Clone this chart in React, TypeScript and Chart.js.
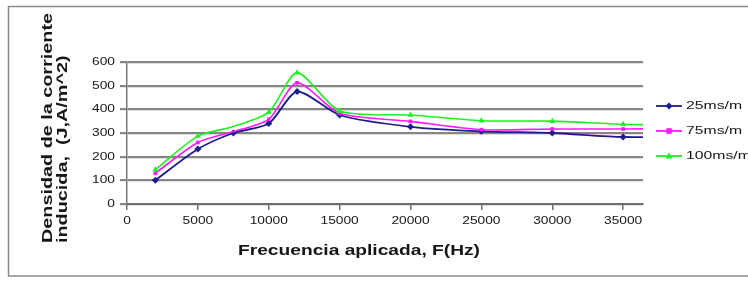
import { useEffect, useRef } from "react";
import { Chart, registerables } from "chart.js";

Chart.register(...registerables);

const frequencies = [2000, 5000, 7500, 10000, 12000, 15000, 20000, 25000, 30000, 35000, 40000];
const series25 = [100, 232, 300, 340, 475, 376, 326, 307, 300, 283, 285];
const series75 = [130, 260, 306, 358, 512, 383, 349, 314, 317, 317, 318];
const series100 = [145, 287, 327, 388, 555, 393, 376, 352, 350, 337, 333];
const seriesLabels = ["25ms/m", "75ms/m", "100ms/m"];
const seriesColors = ["#1c1c8a", "#ff1aff", "#22ee22"];
const seriesMarkers = ["rectRot", "rect", "triangle"];
const xTickValues = [0, 5000, 10000, 15000, 20000, 25000, 30000, 35000];
const yTickValues = [0, 100, 200, 300, 400, 500, 600];
const xTitle = "Frecuencia aplicada, F(Hz)";
const yTitleLines = ["Densidad de la corriente", "inducida,  (J,A/m^2)"];

function drawStretched(ctx: CanvasRenderingContext2D, text: string, x: number, y: number, sx: number, align: CanvasTextAlign, baseline: CanvasTextBaseline) {
  ctx.save();
  ctx.translate(x, y);
  ctx.scale(sx, 1);
  ctx.textAlign = align;
  ctx.textBaseline = baseline;
  ctx.fillText(text, 0, 0);
  ctx.restore();
}

function drawMarker(ctx: CanvasRenderingContext2D, kind: string, x: number, y: number, r: number, color: string) {
  ctx.save();
  ctx.fillStyle = color;
  ctx.beginPath();
  if (kind === "rectRot") {
    ctx.moveTo(x, y - r);
    ctx.lineTo(x + r, y);
    ctx.lineTo(x, y + r);
    ctx.lineTo(x - r, y);
  } else if (kind === "rect") {
    ctx.rect(x - r * 0.8, y - r * 0.8, r * 1.6, r * 1.6);
  } else {
    ctx.moveTo(x, y - r);
    ctx.lineTo(x + r, y + r * 0.7);
    ctx.lineTo(x - r, y + r * 0.7);
  }
  ctx.closePath();
  ctx.fill();
  ctx.restore();
}

const decorPlugin = {
  id: "decor",
  beforeDraw(chart: any) {
    const ctx: CanvasRenderingContext2D = chart.ctx;
    ctx.save();
    ctx.fillStyle = "#ffffff";
    ctx.fillRect(0, 0, chart.width, chart.height);
    ctx.strokeStyle = "#8a8a8a";
    ctx.lineWidth = 1.5;
    ctx.strokeRect(8.5, 6.5, 900, 269.5);
    ctx.restore();
  },
  afterDraw(chart: any) {
    const ctx: CanvasRenderingContext2D = chart.ctx;
    const xs = chart.scales.x;
    const ys = chart.scales.y;
    ctx.save();
    ctx.fillStyle = "#161616";
    ctx.font = '11px "Liberation Sans", Arial, sans-serif';
    const digitScale = 1.25;
    ys.ticks.forEach((t: any) => {
      drawStretched(ctx, String(t.value), 115, ys.getPixelForValue(t.value), digitScale, "right", "middle");
    });
    xs.ticks.forEach((t: any) => {
      drawStretched(ctx, String(t.value), xs.getPixelForValue(t.value), 221, digitScale, "center", "middle");
    });

    ctx.font = 'bold 15px "Liberation Sans", Arial, sans-serif';
    const xw = ctx.measureText(xTitle).width;
    drawStretched(ctx, xTitle, 359, 255, 242 / xw, "center", "alphabetic");

    const yw = ctx.measureText(yTitleLines[0]).width;
    const ysx = 230 / yw;
    const baselines = [52, 67];
    yTitleLines.forEach((line, i) => {
      ctx.save();
      ctx.translate(baselines[i], 243);
      ctx.rotate(-Math.PI / 2);
      ctx.scale(ysx, 1);
      ctx.textAlign = "left";
      ctx.textBaseline = "alphabetic";
      ctx.fillText(line, 0, 0);
      ctx.restore();
    });

    ctx.font = '11.5px "Liberation Sans", Arial, sans-serif';
    const lw = ctx.measureText(seriesLabels[0]).width;
    const lsx = 56 / lw;
    seriesLabels.forEach((label, i) => {
      const cy = 106 + i * 25;
      ctx.save();
      ctx.strokeStyle = seriesColors[i];
      ctx.lineWidth = 1.8;
      ctx.beginPath();
      ctx.moveTo(656, cy);
      ctx.lineTo(682, cy);
      ctx.stroke();
      ctx.restore();
      drawMarker(ctx, seriesMarkers[i], 669, cy, 3.5, seriesColors[i]);
      ctx.fillStyle = "#161616";
      drawStretched(ctx, label, 686, cy, lsx, "left", "middle");
    });
    ctx.restore();
  },
};

export default function App() {
  const ref = useRef<HTMLCanvasElement | null>(null);
  useEffect(() => {
    document.body.style.margin = "0";
    const canvas = ref.current;
    if (!canvas) return;
    const seriesValues = [series25, series75, series100];
    const chart = new Chart(canvas, {
      type: "line",
      data: {
        datasets: seriesValues.map((vals, i) => {
          const r = i === 1 ? 2.6 : 3.5;
          return {
            label: seriesLabels[i],
            data: frequencies.map((f, j) => ({ x: f, y: vals[j] })),
            borderColor: seriesColors[i],
            backgroundColor: seriesColors[i],
            borderWidth: i === 0 ? 1.8 : 1.6,
            pointStyle: seriesMarkers[i] as any,
            pointRadius: frequencies.map((f) => (f === 7500 && i > 0 ? 0 : r)),
            pointBorderWidth: 0,
            tension: 0.25,
            fill: false,
            order: 3 - i,
          };
        }),
      },
      options: {
        responsive: false,
        animation: false,
        events: [],
        layout: { padding: { left: 0, top: 62, right: 105, bottom: 0 } },
        plugins: { legend: { display: false }, tooltip: { enabled: false } },
        scales: {
          x: {
            type: "linear",
            min: 0,
            max: 36400,
            afterBuildTicks: (s: any) => {
              s.ticks = xTickValues.map((v) => ({ value: v }));
            },
            afterFit: (s: any) => {
              s.height = 77;
            },
            ticks: { display: false },
            grid: { drawOnChartArea: false, drawTicks: true, tickLength: 6, color: "#6e6e6e", lineWidth: 1.5 },
            border: { display: true, color: "#6e6e6e", width: 2 },
          },
          y: {
            type: "linear",
            min: 0,
            max: 600,
            afterBuildTicks: (s: any) => {
              s.ticks = yTickValues.map((v) => ({ value: v }));
            },
            afterFit: (s: any) => {
              s.width = 127;
            },
            ticks: { display: false },
            grid: { color: "#858585", lineWidth: 2.2, drawTicks: true, tickLength: 7 },
            border: { display: true, color: "#7a7a7a", width: 1.5 },
          },
        },
      },
      plugins: [decorPlugin],
    });
    return () => chart.destroy();
  }, []);
  return (
    <div style={{ width: 748, height: 281 }}>
      <canvas ref={ref} width={748} height={281} style={{ display: "block" }} />
    </div>
  );
}
